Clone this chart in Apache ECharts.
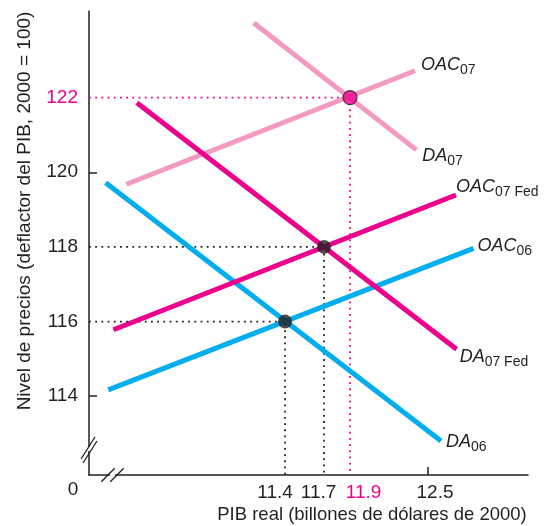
<!DOCTYPE html>
<html>
<head>
<meta charset="utf-8">
<script src="https://cdn.jsdelivr.net/npm/echarts@6/dist/echarts.min.js"></script>
<style>
html,body{margin:0;padding:0;background:#fff;}
#c{width:545px;height:526px;}
</style>
</head>
<body>
<div id="c"></div>
<script>
// ---- data ----
const OAC06 = [[10.04, 114.17], [12.85, 117.96]];
const DA06 = [[10.02, 119.72], [12.60, 112.80]];
const OAC07Fed = [[10.08, 115.78], [12.715, 119.39]];
const DA07Fed = [[10.26, 121.86], [12.72, 115.26]];
const OAC07 = [[10.18, 119.68], [12.40, 122.72]];
const DA07 = [[11.16, 124.00], [12.41, 120.60]];
const eqPoints = [[11.4, 116], [11.7, 118]];
const eqPointFed = [[11.9, 122]];
const xTickLabels = [11.4, 11.7, 11.9, 12.5];
const yTickLabels = [114, 116, 118, 120, 122];
const xTicksShown = [12.5];
const yTicksShown = [114, 120];
const xMin = 9.892, xMax = 13.269;
const yMin = 111.89, yMax = 124.32;

const INK = '#231f20';
const MAG = '#ec008c';
const PINK = '#f49ac1';
const CYAN = '#00aeef';
const FONT = 'Liberation Sans';

const chart = echarts.init(document.getElementById('c'), null, {renderer: 'canvas'});

const labelRich = {
  a: {fontFamily: FONT, fontStyle: 'italic', fontSize: 18, color: INK, lineHeight: 24},
  s: {fontFamily: FONT, fontSize: 14, color: INK, lineHeight: 15, verticalAlign: 'bottom'}
};
function lbl(main, sub, offset) {
  return {
    show: true,
    formatter: '{a|' + main + '}{s|' + sub + '}',
    rich: labelRich,
    offset: offset,
    distance: 3
  };
}
function curve(name, data, color, main, sub, offset) {
  return {
    type: 'line', name: name, data: data, symbol: 'none', z: 3,
    lineStyle: {color: color, width: 5, cap: 'butt'},
    endLabel: lbl(main, sub, offset),
    silent: true, animation: false
  };
}
function guide(data, color) {
  return {
    type: 'line', data: data, symbol: 'none', z: 1, animation: false, silent: true,
    lineStyle: {color: color, width: 1.8, type: [1.8, 4.4]}
  };
}
// per-label nudges so the crowded tick labels sit as in the reference
const xLabelPad = {'11.4': [0, 20, 0, 0], '11.7': [0, 11, 0, 0], '11.9': [0, 0, 0, 27], '12.5': [0, 0, 0, 14]};
const xRich = {};
const xKeys = {'11.4': 'p', '11.7': 'q', '11.9': 'r', '12.5': 't'};
Object.keys(xLabelPad).forEach(function (k) {
  xRich[xKeys[k]] = {fontFamily: FONT, fontSize: 19, color: k === '11.9' ? MAG : INK, padding: xLabelPad[k]};
});

const option = {
  animation: false,
  grid: {left: 89, top: 11, right: 17, bottom: 51, containLabel: false},
  xAxis: {
    type: 'value', min: xMin, max: xMax,
    axisLine: {show: true, onZero: false, lineStyle: {color: INK, width: 1.5}},
    splitLine: {show: false},
    axisTick: {show: true, inside: true, length: 8, customValues: xTicksShown, lineStyle: {color: INK, width: 1.5}},
    axisLabel: {
      show: true, customValues: xTickLabels, margin: 8,
      fontFamily: FONT, fontSize: 19, color: INK,
      formatter: function (v) {
        const s = (Math.round(v * 10) / 10).toFixed(1);
        return '{' + xKeys[s] + '|' + s + '}';
      },
      rich: xRich
    }
  },
  yAxis: {
    type: 'value', min: yMin, max: yMax,
    axisLine: {show: true, onZero: false, lineStyle: {color: INK, width: 1.5}},
    splitLine: {show: false},
    axisTick: {show: true, inside: true, length: 8, customValues: yTicksShown, lineStyle: {color: INK, width: 1.5}},
    axisLabel: {
      show: true, customValues: yTickLabels, margin: 11,
      fontFamily: FONT, fontSize: 19, color: INK,
      formatter: function (v) {
        const s = String(Math.round(v));
        return Math.round(v) === 122 ? '{m|' + s + '}' : s;
      },
      rich: {m: {fontFamily: FONT, fontSize: 19, color: MAG}}
    }
  },
  series: [
    guide([[xMin, 116], [11.4, 116], [11.4, yMin]], INK),
    guide([[xMin, 118], [11.7, 118], [11.7, yMin]], INK),
    guide([[xMin, 122], [11.9, 122], [11.9, yMin]], MAG),
    curve('OAC07', OAC07, PINK, 'OAC', '07', [3, -6]),
    curve('DA07', DA07, PINK, 'DA', '07', [3, 6]),
    curve('OAC06', OAC06, CYAN, 'OAC', '06', [1, -2]),
    curve('DA06', DA06, CYAN, 'DA', '06', [2, 1]),
    curve('OAC07Fed', OAC07Fed, MAG, 'OAC', '07 Fed', [-3, -8]),
    curve('DA07Fed', DA07Fed, MAG, 'DA', '07 Fed', [0, 8]),
    {
      type: 'scatter', data: eqPoints, symbol: 'circle', symbolSize: 14, z: 5,
      itemStyle: {color: INK}, silent: true
    },
    {
      type: 'scatter', data: eqPointFed, symbol: 'circle', symbolSize: 14, z: 5,
      itemStyle: {color: MAG, borderColor: INK, borderWidth: 1.2}, silent: true
    }
  ]
};
chart.setOption(option);

// axis-break marks and titles, placed from the axis scale
const o = chart.convertToPixel({gridIndex: 0}, [xMin, yMin]);
const ox = o[0], oy = o[1];
function slash(cx, cy, hx, hy) {
  return {type: 'line', shape: {x1: cx - hx, y1: cy + hy, x2: cx + hx, y2: cy - hy},
    style: {stroke: INK, lineWidth: 1.3}, z: 10};
}
chart.setOption({
  graphic: [
    // y-axis break
    {type: 'rect', shape: {x: ox - 2, y: oy - 28, width: 4, height: 4}, style: {fill: '#fff'}, z: 9},
    slash(ox - 1, oy - 27, 7, 11), slash(ox + 1, oy - 23, 7, 11),
    // x-axis break
    {type: 'rect', shape: {x: ox + 21, y: oy - 2, width: 5, height: 4}, style: {fill: '#fff'}, z: 9},
    slash(ox + 19, oy, 6.7, 6.7), slash(ox + 28, oy, 6.7, 6.7),
    {type: 'text', x: ox - 16, y: oy + 15, style: {text: '0', font: '19px "' + FONT + '"', fill: INK, align: 'center', verticalAlign: 'middle'}},
    {type: 'text', x: 372, y: 515, style: {text: 'PIB real (billones de dólares de 2000)', font: '18.5px "' + FONT + '"', fill: INK, align: 'center', verticalAlign: 'middle'}},
    {type: 'text', x: 25, y: 211, rotation: Math.PI / 2, style: {text: 'Nivel de precios (deflactor del PIB, 2000 = 100)', font: '19px "' + FONT + '"', fill: INK, align: 'center', verticalAlign: 'middle'}}
  ]
});
</script>
</body>
</html>
